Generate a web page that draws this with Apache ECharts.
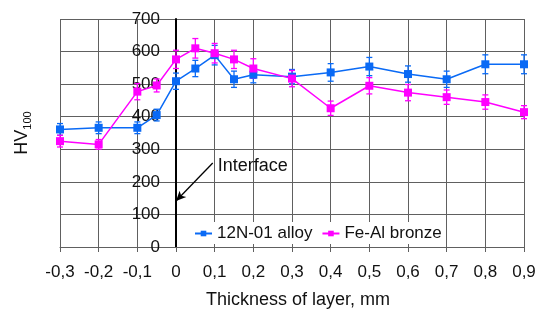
<!DOCTYPE html>
<html>
<head>
<meta charset="utf-8">
<script src="https://cdn.jsdelivr.net/npm/echarts@6/dist/echarts.min.js"></script>
<style>html,body{margin:0;padding:0;background:#fff;}#c{width:550px;height:326px;}</style>
</head>
<body>
<div id="c"></div>
<script>
const thickness = [-0.3,-0.2,-0.1,-0.05,0,0.05,0.1,0.15,0.2,0.3,0.4,0.5,0.6,0.7,0.8,0.9];
const alloyHV = [361,366,366,405,509,548,589,515,529,523,536,554,531,515,561,561];
const alloyErr = [18,18,18,18,25,25,30,25,25,22,27,28,25,25,29,29];
const bronzeHV = [325,315,477,496,576,610,595,576,548,517,426,495,474,460,445,414];
const bronzeErr = [18,15,25,20,28,30,30,28,30,25,22,25,25,22,22,20];
const seriesNames = ['12N-01 alloy','Fe-Al bronze'];
const colors = ['#0a6af5','#ff00ff'];
const annotationText = 'Interface';

const font = 'Liberation Sans, Arial, sans-serif';
function fmt(v){ if (Math.abs(v) < 1e-9) return '0'; return (Math.round(v*10)/10).toFixed(1).replace('.', ','); }

const G = {left:60, right:26, top:19, bottom:79};
const W = 550;
const xMin = -0.3, xMax = 0.9;
const yAxisShift = (W - G.left - G.right) * (0 - xMin) / (xMax - xMin);

function errData(vals, errs){ return thickness.map((x,i)=>[x, vals[i]-errs[i], vals[i]+errs[i]]); }
function errSeries(vals, errs, color){
  return {
    type:'custom', silent:true, z:2,
    data: errData(vals, errs),
    renderItem: function(params, api){
      const x = api.value(0);
      const lo = api.coord([x, api.value(1)]);
      const hi = api.coord([x, api.value(2)]);
      const w = 3;
      const st = {stroke: color, lineWidth: 1.3};
      return {type:'group', children:[
        {type:'line', shape:{x1:lo[0],y1:lo[1],x2:hi[0],y2:hi[1]}, style:st},
        {type:'line', shape:{x1:lo[0]-w,y1:lo[1],x2:lo[0]+w,y2:lo[1]}, style:st},
        {type:'line', shape:{x1:hi[0]-w,y1:hi[1],x2:hi[0]+w,y2:hi[1]}, style:st}
      ]};
    }
  };
}

const chart = echarts.init(document.getElementById('c'), null, {renderer:'canvas'});
chart.setOption({
  animation:false,
  textStyle:{fontFamily:font},
  grid:{left:G.left, right:G.right, top:G.top, bottom:G.bottom, containLabel:false, outerBoundsMode:'none'},
  legend:{
    data: seriesNames, left:190, top:222, backgroundColor:'#fff',
    padding:[3,4,2,4], itemGap:9, itemWidth:17, itemHeight:7,
    textStyle:{fontSize:17, color:'#111', fontFamily:font}
  },
  xAxis:{
    type:'value', min:xMin, max:xMax, interval:0.1,
    name:'Thickness of layer, mm', nameLocation:'middle', nameGap:44,
    nameTextStyle:{fontSize:18, color:'#111', padding:[0,0,0,12]},
    axisLine:{show:true, lineStyle:{color:'#606060', width:1}},
    axisTick:{show:true, length:5, lineStyle:{color:'#606060'}},
    axisLabel:{fontSize:17, color:'#111', margin:17, formatter:fmt},
    splitLine:{show:true, lineStyle:{color:'#606060', width:1}}
  },
  yAxis:{
    type:'value', min:0, max:700, interval:100, position:'left', offset:-yAxisShift,
    name:'{a|HV}{b|100}', nameLocation:'middle', nameGap:yAxisShift + 27, nameRotate:90,
    nameTextStyle:{rich:{
      a:{fontSize:18, color:'#111', fontFamily:font, lineHeight:22, verticalAlign:'middle'},
      b:{fontSize:11, color:'#111', fontFamily:font, lineHeight:22, verticalAlign:'bottom'}
    }},
    axisLine:{show:true, onZero:false, lineStyle:{color:'#000', width:2}},
    axisTick:{show:false},
    axisLabel:{fontSize:17, color:'#111', margin:16},
    splitLine:{show:true, lineStyle:{color:'#606060', width:1}}
  },
  series:[
    errSeries(alloyHV, alloyErr, colors[0]),
    errSeries(bronzeHV, bronzeErr, colors[1]),
    {
      name:seriesNames[0], type:'line', z:3, color:colors[0],
      data: thickness.map((x,i)=>[x, alloyHV[i]]),
      symbol:'rect', symbolSize:8, lineStyle:{width:1.5, color:colors[0]},
      itemStyle:{color:colors[0]}
    },
    {
      name:seriesNames[1], type:'line', z:4, color:colors[1],
      data: thickness.map((x,i)=>[x, bronzeHV[i]]),
      symbol:'rect', symbolSize:8, lineStyle:{width:1.5, color:colors[1]},
      itemStyle:{color:colors[1]},
      markLine:{
        silent:true, symbol:['none','arrow'], symbolSize:[7,10],
        lineStyle:{color:'#000', width:1.3, type:'solid'},
        label:{show:false},
        data:[[{coord:[0.095,258]},{coord:[0.0,141]}]]
      },
      markPoint:{
        silent:true, symbol:'circle', symbolSize:0,
        label:{show:true, position:'right', distance:3, formatter:annotationText, fontSize:18, color:'#111', fontFamily:font},
        data:[{coord:[0.1,250]}]
      }
    }
  ]
});
</script>
</body>
</html>
